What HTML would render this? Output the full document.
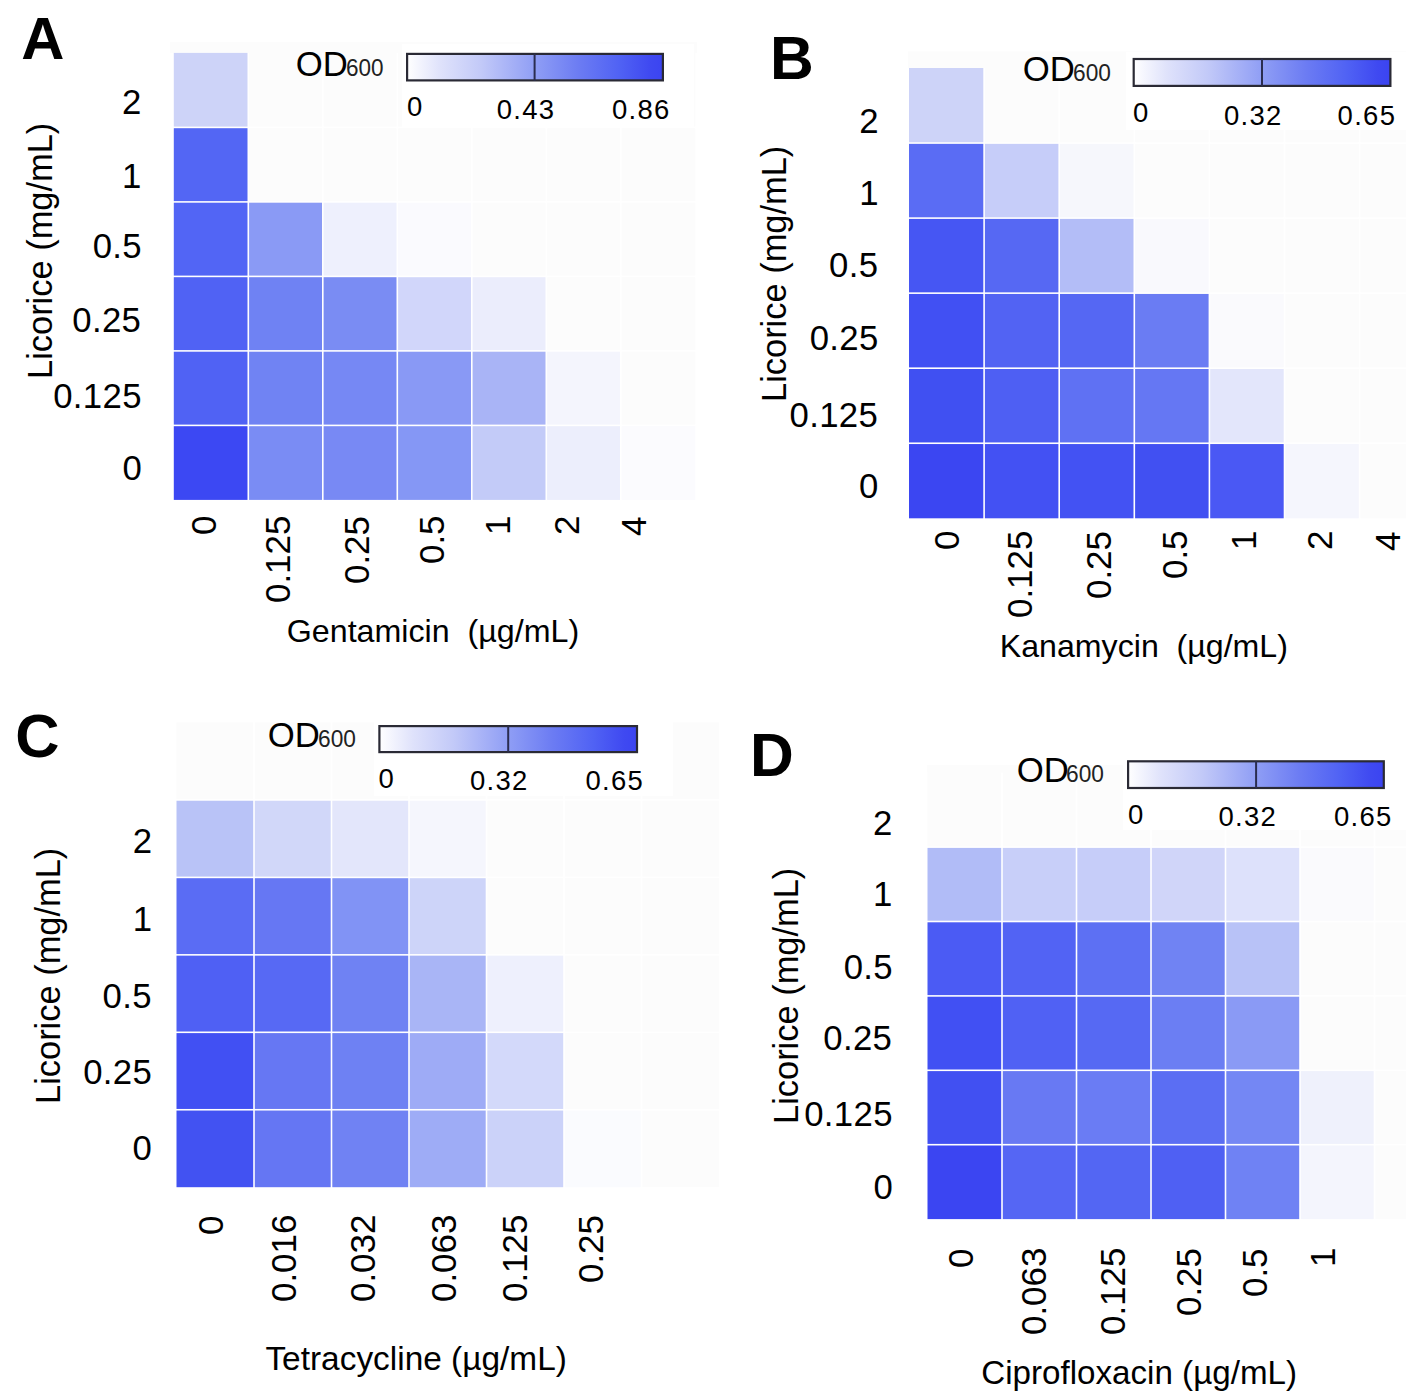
<!DOCTYPE html><html><head><meta charset="utf-8"><style>html,body{margin:0;padding:0;background:#fff;}body{width:1406px;height:1400px;position:relative;overflow:hidden;}</style></head><body>
<svg width="1406" height="1400" style="position:absolute;left:0;top:0"><defs><linearGradient id="gA" x1="0" y1="0" x2="1" y2="0"><stop offset="0" stop-color="#ffffff"/><stop offset="0.13" stop-color="#dfe2fb"/><stop offset="0.29" stop-color="#c2c9f8"/><stop offset="0.44" stop-color="#9eaaf6"/><stop offset="0.5" stop-color="#8f9ef5"/><stop offset="0.67" stop-color="#6c7cf3"/><stop offset="0.83" stop-color="#5062f4"/><stop offset="0.95" stop-color="#3f49f1"/><stop offset="1" stop-color="#3b44f1"/></linearGradient><linearGradient id="gB" x1="0" y1="0" x2="1" y2="0"><stop offset="0" stop-color="#ffffff"/><stop offset="0.13" stop-color="#dfe2fb"/><stop offset="0.29" stop-color="#c2c9f8"/><stop offset="0.44" stop-color="#9eaaf6"/><stop offset="0.5" stop-color="#8f9ef5"/><stop offset="0.67" stop-color="#6c7cf3"/><stop offset="0.83" stop-color="#5062f4"/><stop offset="0.95" stop-color="#3f49f1"/><stop offset="1" stop-color="#3b44f1"/></linearGradient><linearGradient id="gC" x1="0" y1="0" x2="1" y2="0"><stop offset="0" stop-color="#ffffff"/><stop offset="0.13" stop-color="#dfe2fb"/><stop offset="0.29" stop-color="#c2c9f8"/><stop offset="0.44" stop-color="#9eaaf6"/><stop offset="0.5" stop-color="#8f9ef5"/><stop offset="0.67" stop-color="#6c7cf3"/><stop offset="0.83" stop-color="#5062f4"/><stop offset="0.95" stop-color="#3f49f1"/><stop offset="1" stop-color="#3b44f1"/></linearGradient><linearGradient id="gD" x1="0" y1="0" x2="1" y2="0"><stop offset="0" stop-color="#ffffff"/><stop offset="0.13" stop-color="#dfe2fb"/><stop offset="0.29" stop-color="#c2c9f8"/><stop offset="0.44" stop-color="#9eaaf6"/><stop offset="0.5" stop-color="#8f9ef5"/><stop offset="0.67" stop-color="#6c7cf3"/><stop offset="0.83" stop-color="#5062f4"/><stop offset="0.95" stop-color="#3f49f1"/><stop offset="1" stop-color="#3b44f1"/></linearGradient></defs><rect x="170" y="42" width="527" height="11" fill="#fcfcfc"/><rect x="173.80" y="52.90" width="73.70" height="73.70" fill="#cdd3f8"/><rect x="249.10" y="52.90" width="72.90" height="73.70" fill="#fcfcfc"/><rect x="323.60" y="52.90" width="72.90" height="73.70" fill="#fcfcfc"/><rect x="398.10" y="52.90" width="72.90" height="73.70" fill="#fcfcfc"/><rect x="472.60" y="52.90" width="72.90" height="73.70" fill="#fcfcfc"/><rect x="547.10" y="52.90" width="72.90" height="73.70" fill="#fcfcfc"/><rect x="621.60" y="52.90" width="73.70" height="73.70" fill="#fcfcfc"/><rect x="173.80" y="128.20" width="73.70" height="72.90" fill="#5366f4"/><rect x="249.10" y="128.20" width="72.90" height="72.90" fill="#fcfcfc"/><rect x="323.60" y="128.20" width="72.90" height="72.90" fill="#fcfcfc"/><rect x="398.10" y="128.20" width="72.90" height="72.90" fill="#fcfcfc"/><rect x="472.60" y="128.20" width="72.90" height="72.90" fill="#fcfcfc"/><rect x="547.10" y="128.20" width="72.90" height="72.90" fill="#fcfcfc"/><rect x="621.60" y="128.20" width="73.70" height="72.90" fill="#fcfcfc"/><rect x="173.80" y="202.70" width="73.70" height="72.90" fill="#5265f5"/><rect x="249.10" y="202.70" width="72.90" height="72.90" fill="#8a9af5"/><rect x="323.60" y="202.70" width="72.90" height="72.90" fill="#eef0fd"/><rect x="398.10" y="202.70" width="72.90" height="72.90" fill="#fafafe"/><rect x="472.60" y="202.70" width="72.90" height="72.90" fill="#fcfcfc"/><rect x="547.10" y="202.70" width="72.90" height="72.90" fill="#fcfcfc"/><rect x="621.60" y="202.70" width="73.70" height="72.90" fill="#fcfcfc"/><rect x="173.80" y="277.20" width="73.70" height="72.90" fill="#5062f4"/><rect x="249.10" y="277.20" width="72.90" height="72.90" fill="#6f82f3"/><rect x="323.60" y="277.20" width="72.90" height="72.90" fill="#7a8cf3"/><rect x="398.10" y="277.20" width="72.90" height="72.90" fill="#d1d6fa"/><rect x="472.60" y="277.20" width="72.90" height="72.90" fill="#ebedfc"/><rect x="547.10" y="277.20" width="72.90" height="72.90" fill="#fcfcfc"/><rect x="621.60" y="277.20" width="73.70" height="72.90" fill="#fcfcfc"/><rect x="173.80" y="351.70" width="73.70" height="72.90" fill="#5062f4"/><rect x="249.10" y="351.70" width="72.90" height="72.90" fill="#7083f3"/><rect x="323.60" y="351.70" width="72.90" height="72.90" fill="#7688f4"/><rect x="398.10" y="351.70" width="72.90" height="72.90" fill="#8999f5"/><rect x="472.60" y="351.70" width="72.90" height="72.90" fill="#a9b4f6"/><rect x="547.10" y="351.70" width="72.90" height="72.90" fill="#f4f5fd"/><rect x="621.60" y="351.70" width="73.70" height="72.90" fill="#fcfcfc"/><rect x="173.80" y="426.20" width="73.70" height="73.70" fill="#3c48f3"/><rect x="249.10" y="426.20" width="72.90" height="73.70" fill="#7a8cf4"/><rect x="323.60" y="426.20" width="72.90" height="73.70" fill="#7889f4"/><rect x="398.10" y="426.20" width="72.90" height="73.70" fill="#8597f5"/><rect x="472.60" y="426.20" width="72.90" height="73.70" fill="#c3cbf8"/><rect x="547.10" y="426.20" width="72.90" height="73.70" fill="#eceefc"/><rect x="621.60" y="426.20" width="73.70" height="73.70" fill="#fbfbfe"/><rect x="402" y="44" width="292" height="84" fill="#ffffff"/><rect x="407.10" y="53.90" width="255.80" height="26.50" fill="url(#gA)" stroke="#2a2a35" stroke-width="2.2"/><line x1="534.60" y1="53.55" x2="534.60" y2="80.75" stroke="#2a2d50" stroke-width="2.0"/><rect x="908" y="51.4" width="498" height="16.6" fill="#fcfcfc"/><rect x="909.00" y="68.00" width="74.30" height="74.25" fill="#cdd3f8"/><rect x="984.90" y="68.00" width="73.50" height="74.25" fill="#fcfcfc"/><rect x="1060.00" y="68.00" width="73.50" height="74.25" fill="#fcfcfc"/><rect x="1135.10" y="68.00" width="73.50" height="74.25" fill="#fcfcfc"/><rect x="1210.20" y="68.00" width="73.50" height="74.25" fill="#fcfcfc"/><rect x="1285.30" y="68.00" width="73.50" height="74.25" fill="#fcfcfc"/><rect x="1360.40" y="68.00" width="45.60" height="74.25" fill="#fcfcfc"/><rect x="909.00" y="143.85" width="74.30" height="73.45" fill="#5a6cf4"/><rect x="984.90" y="143.85" width="73.50" height="73.45" fill="#c6cdf9"/><rect x="1060.00" y="143.85" width="73.50" height="73.45" fill="#f6f7fc"/><rect x="1135.10" y="143.85" width="73.50" height="73.45" fill="#fcfcfc"/><rect x="1210.20" y="143.85" width="73.50" height="73.45" fill="#fcfcfc"/><rect x="1285.30" y="143.85" width="73.50" height="73.45" fill="#fcfcfc"/><rect x="1360.40" y="143.85" width="45.60" height="73.45" fill="#fcfcfc"/><rect x="909.00" y="218.90" width="74.30" height="73.45" fill="#4656f3"/><rect x="984.90" y="218.90" width="73.50" height="73.45" fill="#5668f3"/><rect x="1060.00" y="218.90" width="73.50" height="73.45" fill="#b3bdf7"/><rect x="1135.10" y="218.90" width="73.50" height="73.45" fill="#f9f9fd"/><rect x="1210.20" y="218.90" width="73.50" height="73.45" fill="#fcfcfc"/><rect x="1285.30" y="218.90" width="73.50" height="73.45" fill="#fcfcfc"/><rect x="1360.40" y="218.90" width="45.60" height="73.45" fill="#fcfcfc"/><rect x="909.00" y="293.95" width="74.30" height="73.45" fill="#4150f3"/><rect x="984.90" y="293.95" width="73.50" height="73.45" fill="#5263f3"/><rect x="1060.00" y="293.95" width="73.50" height="73.45" fill="#5567f3"/><rect x="1135.10" y="293.95" width="73.50" height="73.45" fill="#6a7cf3"/><rect x="1210.20" y="293.95" width="73.50" height="73.45" fill="#fafafd"/><rect x="1285.30" y="293.95" width="73.50" height="73.45" fill="#fcfcfc"/><rect x="1360.40" y="293.95" width="45.60" height="73.45" fill="#fcfcfc"/><rect x="909.00" y="369.00" width="74.30" height="73.45" fill="#4050f2"/><rect x="984.90" y="369.00" width="73.50" height="73.45" fill="#4e5ff3"/><rect x="1060.00" y="369.00" width="73.50" height="73.45" fill="#5f71f3"/><rect x="1135.10" y="369.00" width="73.50" height="73.45" fill="#6577f3"/><rect x="1210.20" y="369.00" width="73.50" height="73.45" fill="#e3e6fb"/><rect x="1285.30" y="369.00" width="73.50" height="73.45" fill="#fcfcfc"/><rect x="1360.40" y="369.00" width="45.60" height="73.45" fill="#fcfcfc"/><rect x="909.00" y="444.05" width="74.30" height="74.25" fill="#3b46f2"/><rect x="984.90" y="444.05" width="73.50" height="74.25" fill="#4351f3"/><rect x="1060.00" y="444.05" width="73.50" height="74.25" fill="#4352f3"/><rect x="1135.10" y="444.05" width="73.50" height="74.25" fill="#4150f2"/><rect x="1210.20" y="444.05" width="73.50" height="74.25" fill="#4a58f4"/><rect x="1285.30" y="444.05" width="73.50" height="74.25" fill="#f5f6fd"/><rect x="1360.40" y="444.05" width="45.60" height="74.25" fill="#fcfcfc"/><rect x="1126" y="52" width="280" height="78" fill="#ffffff"/><rect x="1133.70" y="59.00" width="256.70" height="26.90" fill="url(#gB)" stroke="#2a2a35" stroke-width="2.2"/><line x1="1262.00" y1="58.65" x2="1262.00" y2="86.25" stroke="#2a2d50" stroke-width="2.0"/><rect x="176.50" y="722.50" width="76.70" height="76.65" fill="#fcfcfc"/><rect x="254.80" y="722.50" width="75.90" height="76.65" fill="#fcfcfc"/><rect x="332.30" y="722.50" width="75.90" height="76.65" fill="#fcfcfc"/><rect x="409.80" y="722.50" width="75.90" height="76.65" fill="#fcfcfc"/><rect x="487.30" y="722.50" width="75.90" height="76.65" fill="#fcfcfc"/><rect x="564.80" y="722.50" width="75.90" height="76.65" fill="#fcfcfc"/><rect x="642.30" y="722.50" width="76.70" height="76.65" fill="#fcfcfc"/><rect x="176.50" y="800.75" width="76.70" height="75.85" fill="#b9c3f7"/><rect x="254.80" y="800.75" width="75.90" height="75.85" fill="#d1d7f9"/><rect x="332.30" y="800.75" width="75.90" height="75.85" fill="#e3e6fb"/><rect x="409.80" y="800.75" width="75.90" height="75.85" fill="#f5f6fd"/><rect x="487.30" y="800.75" width="75.90" height="75.85" fill="#fcfcfc"/><rect x="564.80" y="800.75" width="75.90" height="75.85" fill="#fcfcfc"/><rect x="642.30" y="800.75" width="76.70" height="75.85" fill="#fcfcfc"/><rect x="176.50" y="878.20" width="76.70" height="75.85" fill="#5a6cf4"/><rect x="254.80" y="878.20" width="75.90" height="75.85" fill="#6677f3"/><rect x="332.30" y="878.20" width="75.90" height="75.85" fill="#8193f5"/><rect x="409.80" y="878.20" width="75.90" height="75.85" fill="#cdd4f9"/><rect x="487.30" y="878.20" width="75.90" height="75.85" fill="#fcfcfc"/><rect x="564.80" y="878.20" width="75.90" height="75.85" fill="#fcfcfc"/><rect x="642.30" y="878.20" width="76.70" height="75.85" fill="#fcfcfc"/><rect x="176.50" y="955.65" width="76.70" height="75.85" fill="#4f60f4"/><rect x="254.80" y="955.65" width="75.90" height="75.85" fill="#5769f4"/><rect x="332.30" y="955.65" width="75.90" height="75.85" fill="#6f82f3"/><rect x="409.80" y="955.65" width="75.90" height="75.85" fill="#a9b5f6"/><rect x="487.30" y="955.65" width="75.90" height="75.85" fill="#eef0fd"/><rect x="564.80" y="955.65" width="75.90" height="75.85" fill="#fcfcfc"/><rect x="642.30" y="955.65" width="76.70" height="75.85" fill="#fcfcfc"/><rect x="176.50" y="1033.10" width="76.70" height="75.85" fill="#4150f3"/><rect x="254.80" y="1033.10" width="75.90" height="75.85" fill="#6677f3"/><rect x="332.30" y="1033.10" width="75.90" height="75.85" fill="#6e81f3"/><rect x="409.80" y="1033.10" width="75.90" height="75.85" fill="#9eabf6"/><rect x="487.30" y="1033.10" width="75.90" height="75.85" fill="#d3d9fa"/><rect x="564.80" y="1033.10" width="75.90" height="75.85" fill="#fcfcfc"/><rect x="642.30" y="1033.10" width="76.70" height="75.85" fill="#fcfcfc"/><rect x="176.50" y="1110.55" width="76.70" height="76.65" fill="#4252f2"/><rect x="254.80" y="1110.55" width="75.90" height="76.65" fill="#6576f3"/><rect x="332.30" y="1110.55" width="75.90" height="76.65" fill="#7082f3"/><rect x="409.80" y="1110.55" width="75.90" height="76.65" fill="#9eacf6"/><rect x="487.30" y="1110.55" width="75.90" height="76.65" fill="#cbd2f9"/><rect x="564.80" y="1110.55" width="75.90" height="76.65" fill="#fafbfe"/><rect x="642.30" y="1110.55" width="76.70" height="76.65" fill="#fcfcfc"/><rect x="374" y="721" width="299" height="75" fill="#ffffff"/><rect x="379.40" y="726.10" width="257.60" height="26.00" fill="url(#gC)" stroke="#2a2a35" stroke-width="2.2"/><line x1="508.20" y1="725.75" x2="508.20" y2="752.45" stroke="#2a2d50" stroke-width="2.0"/><rect x="927" y="765" width="479" height="7.7000000000000455" fill="#fcfcfc"/><rect x="927.50" y="772.70" width="73.70" height="73.60" fill="#fcfcfc"/><rect x="1002.80" y="772.70" width="72.90" height="73.60" fill="#fcfcfc"/><rect x="1077.30" y="772.70" width="72.90" height="73.60" fill="#fcfcfc"/><rect x="1151.80" y="772.70" width="72.90" height="73.60" fill="#fcfcfc"/><rect x="1226.30" y="772.70" width="72.90" height="73.60" fill="#fcfcfc"/><rect x="1300.80" y="772.70" width="72.90" height="73.60" fill="#fcfcfc"/><rect x="1375.30" y="772.70" width="30.70" height="73.60" fill="#fcfcfc"/><rect x="927.50" y="847.90" width="73.70" height="72.80" fill="#b1bcf7"/><rect x="1002.80" y="847.90" width="72.90" height="72.80" fill="#c8cff9"/><rect x="1077.30" y="847.90" width="72.90" height="72.80" fill="#c6cdf9"/><rect x="1151.80" y="847.90" width="72.90" height="72.80" fill="#d0d5f9"/><rect x="1226.30" y="847.90" width="72.90" height="72.80" fill="#dde1fb"/><rect x="1300.80" y="847.90" width="72.90" height="72.80" fill="#fafafd"/><rect x="1375.30" y="847.90" width="30.70" height="72.80" fill="#fcfcfc"/><rect x="927.50" y="922.30" width="73.70" height="72.80" fill="#4b5bf4"/><rect x="1002.80" y="922.30" width="72.90" height="72.80" fill="#5263f4"/><rect x="1077.30" y="922.30" width="72.90" height="72.80" fill="#5d70f3"/><rect x="1151.80" y="922.30" width="72.90" height="72.80" fill="#7083f3"/><rect x="1226.30" y="922.30" width="72.90" height="72.80" fill="#b8c2f7"/><rect x="1300.80" y="922.30" width="72.90" height="72.80" fill="#fcfcfc"/><rect x="1375.30" y="922.30" width="30.70" height="72.80" fill="#fcfcfc"/><rect x="927.50" y="996.70" width="73.70" height="72.80" fill="#4150f3"/><rect x="1002.80" y="996.70" width="72.90" height="72.80" fill="#5061f4"/><rect x="1077.30" y="996.70" width="72.90" height="72.80" fill="#5669f3"/><rect x="1151.80" y="996.70" width="72.90" height="72.80" fill="#6b7ef3"/><rect x="1226.30" y="996.70" width="72.90" height="72.80" fill="#8a9af5"/><rect x="1300.80" y="996.70" width="72.90" height="72.80" fill="#fcfcfc"/><rect x="1375.30" y="996.70" width="30.70" height="72.80" fill="#fcfcfc"/><rect x="927.50" y="1071.10" width="73.70" height="72.80" fill="#4150f2"/><rect x="1002.80" y="1071.10" width="72.90" height="72.80" fill="#6879f3"/><rect x="1077.30" y="1071.10" width="72.90" height="72.80" fill="#6a7cf4"/><rect x="1151.80" y="1071.10" width="72.90" height="72.80" fill="#5b6ef3"/><rect x="1226.30" y="1071.10" width="72.90" height="72.80" fill="#7487f4"/><rect x="1300.80" y="1071.10" width="72.90" height="72.80" fill="#eff1fc"/><rect x="1375.30" y="1071.10" width="30.70" height="72.80" fill="#fcfcfc"/><rect x="927.50" y="1145.50" width="73.70" height="73.60" fill="#3b45f2"/><rect x="1002.80" y="1145.50" width="72.90" height="73.60" fill="#5566f4"/><rect x="1077.30" y="1145.50" width="72.90" height="73.60" fill="#5366f3"/><rect x="1151.80" y="1145.50" width="72.90" height="73.60" fill="#4f60f3"/><rect x="1226.30" y="1145.50" width="72.90" height="73.60" fill="#6f82f4"/><rect x="1300.80" y="1145.50" width="72.90" height="73.60" fill="#f4f5fd"/><rect x="1375.30" y="1145.50" width="30.70" height="73.60" fill="#fcfcfc"/><rect x="1123" y="757" width="283" height="73" fill="#ffffff"/><rect x="1128.10" y="761.30" width="255.70" height="26.70" fill="url(#gD)" stroke="#2a2a35" stroke-width="2.2"/><line x1="1256.10" y1="760.95" x2="1256.10" y2="788.35" stroke="#2a2d50" stroke-width="2.0"/></svg>
<div id="t0" style="position:absolute;left:21.21px;top:9.44px;font:700 59.71px 'Liberation Sans', sans-serif;line-height:1;white-space:pre;letter-spacing:0.00px;color:#000;">A</div>
<div id="t1" style="position:absolute;left:769.96px;top:28.11px;font:700 60.58px 'Liberation Sans', sans-serif;line-height:1;white-space:pre;letter-spacing:0.00px;color:#000;">B</div>
<div id="t2" style="position:absolute;left:15.25px;top:705.51px;font:700 61.27px 'Liberation Sans', sans-serif;line-height:1;white-space:pre;letter-spacing:0.00px;color:#000;">C</div>
<div id="t3" style="position:absolute;left:750.06px;top:724.61px;font:700 60.58px 'Liberation Sans', sans-serif;line-height:1;white-space:pre;letter-spacing:0.00px;color:#000;">D</div>
<div id="t4" style="position:absolute;left:295.66px;top:47.04px;font:400 34.72px 'Liberation Sans', sans-serif;line-height:1;white-space:pre;letter-spacing:0.00px;color:#000;">OD</div>
<div id="t5" style="position:absolute;left:345.57px;top:56.15px;font:400 24.01px 'Liberation Sans', sans-serif;line-height:1;white-space:pre;letter-spacing:0.00px;color:#222;transform-origin:0 0;transform:scaleX(0.9383);">600</div>
<div id="t6" style="position:absolute;left:1022.86px;top:51.84px;font:400 34.72px 'Liberation Sans', sans-serif;line-height:1;white-space:pre;letter-spacing:0.00px;color:#000;">OD</div>
<div id="t7" style="position:absolute;left:1072.76px;top:61.05px;font:400 24.01px 'Liberation Sans', sans-serif;line-height:1;white-space:pre;letter-spacing:0.00px;color:#222;transform-origin:0 0;transform:scaleX(0.9462);">600</div>
<div id="t8" style="position:absolute;left:267.86px;top:718.24px;font:400 34.72px 'Liberation Sans', sans-serif;line-height:1;white-space:pre;letter-spacing:0.00px;color:#000;">OD</div>
<div id="t9" style="position:absolute;left:317.76px;top:727.45px;font:400 24.01px 'Liberation Sans', sans-serif;line-height:1;white-space:pre;letter-spacing:0.00px;color:#222;transform-origin:0 0;transform:scaleX(0.9462);">600</div>
<div id="t10" style="position:absolute;left:1016.86px;top:753.34px;font:400 34.72px 'Liberation Sans', sans-serif;line-height:1;white-space:pre;letter-spacing:0.00px;color:#000;">OD</div>
<div id="t11" style="position:absolute;left:1066.46px;top:762.45px;font:400 24.01px 'Liberation Sans', sans-serif;line-height:1;white-space:pre;letter-spacing:0.00px;color:#222;transform-origin:0 0;transform:scaleX(0.9462);">600</div>
<div id="t12" style="position:absolute;left:406.90px;top:92.88px;font:400 27.46px 'Liberation Sans', sans-serif;line-height:1;white-space:pre;letter-spacing:1.30px;color:#000;">0</div>
<div id="t13" style="position:absolute;left:496.70px;top:95.88px;font:400 27.46px 'Liberation Sans', sans-serif;line-height:1;white-space:pre;letter-spacing:1.30px;color:#000;">0.43</div>
<div id="t14" style="position:absolute;left:611.90px;top:95.88px;font:400 27.46px 'Liberation Sans', sans-serif;line-height:1;white-space:pre;letter-spacing:1.30px;color:#000;">0.86</div>
<div id="t15" style="position:absolute;left:1132.90px;top:99.48px;font:400 27.46px 'Liberation Sans', sans-serif;line-height:1;white-space:pre;letter-spacing:1.30px;color:#000;">0</div>
<div id="t16" style="position:absolute;left:1223.90px;top:101.88px;font:400 27.46px 'Liberation Sans', sans-serif;line-height:1;white-space:pre;letter-spacing:1.30px;color:#000;">0.32</div>
<div id="t17" style="position:absolute;left:1337.60px;top:101.88px;font:400 27.46px 'Liberation Sans', sans-serif;line-height:1;white-space:pre;letter-spacing:1.30px;color:#000;">0.65</div>
<div id="t18" style="position:absolute;left:378.60px;top:765.38px;font:400 27.46px 'Liberation Sans', sans-serif;line-height:1;white-space:pre;letter-spacing:1.30px;color:#000;">0</div>
<div id="t19" style="position:absolute;left:470.00px;top:766.88px;font:400 27.46px 'Liberation Sans', sans-serif;line-height:1;white-space:pre;letter-spacing:1.30px;color:#000;">0.32</div>
<div id="t20" style="position:absolute;left:585.40px;top:766.88px;font:400 27.46px 'Liberation Sans', sans-serif;line-height:1;white-space:pre;letter-spacing:1.30px;color:#000;">0.65</div>
<div id="t21" style="position:absolute;left:1128.10px;top:800.88px;font:400 27.46px 'Liberation Sans', sans-serif;line-height:1;white-space:pre;letter-spacing:1.30px;color:#000;">0</div>
<div id="t22" style="position:absolute;left:1218.40px;top:802.88px;font:400 27.46px 'Liberation Sans', sans-serif;line-height:1;white-space:pre;letter-spacing:1.30px;color:#000;">0.32</div>
<div id="t23" style="position:absolute;left:1333.90px;top:802.88px;font:400 27.46px 'Liberation Sans', sans-serif;line-height:1;white-space:pre;letter-spacing:1.30px;color:#000;">0.65</div>
<div id="t24" style="position:absolute;left:121.88px;top:85.13px;font:400 34.74px 'Liberation Sans', sans-serif;line-height:1;white-space:pre;letter-spacing:0.35px;color:#000;">2</div>
<div id="t25" style="position:absolute;left:121.88px;top:158.51px;font:400 34.74px 'Liberation Sans', sans-serif;line-height:1;white-space:pre;letter-spacing:0.35px;color:#000;">1</div>
<div id="t26" style="position:absolute;left:92.70px;top:228.76px;font:400 34.74px 'Liberation Sans', sans-serif;line-height:1;white-space:pre;letter-spacing:0.35px;color:#000;">0.5</div>
<div id="t27" style="position:absolute;left:72.25px;top:302.56px;font:400 34.74px 'Liberation Sans', sans-serif;line-height:1;white-space:pre;letter-spacing:0.35px;color:#000;">0.25</div>
<div id="t28" style="position:absolute;left:53.14px;top:379.16px;font:400 34.74px 'Liberation Sans', sans-serif;line-height:1;white-space:pre;letter-spacing:0.35px;color:#000;">0.125</div>
<div id="t29" style="position:absolute;left:122.54px;top:450.51px;font:400 34.74px 'Liberation Sans', sans-serif;line-height:1;white-space:pre;letter-spacing:0.35px;color:#000;">0</div>
<div id="t30" style="position:absolute;left:859.28px;top:104.03px;font:400 34.74px 'Liberation Sans', sans-serif;line-height:1;white-space:pre;letter-spacing:0.35px;color:#000;">2</div>
<div id="t31" style="position:absolute;left:859.28px;top:176.11px;font:400 34.74px 'Liberation Sans', sans-serif;line-height:1;white-space:pre;letter-spacing:0.35px;color:#000;">1</div>
<div id="t32" style="position:absolute;left:829.10px;top:248.46px;font:400 34.74px 'Liberation Sans', sans-serif;line-height:1;white-space:pre;letter-spacing:0.35px;color:#000;">0.5</div>
<div id="t33" style="position:absolute;left:809.65px;top:321.46px;font:400 34.74px 'Liberation Sans', sans-serif;line-height:1;white-space:pre;letter-spacing:0.35px;color:#000;">0.25</div>
<div id="t34" style="position:absolute;left:789.54px;top:398.46px;font:400 34.74px 'Liberation Sans', sans-serif;line-height:1;white-space:pre;letter-spacing:0.35px;color:#000;">0.125</div>
<div id="t35" style="position:absolute;left:858.94px;top:468.96px;font:400 34.74px 'Liberation Sans', sans-serif;line-height:1;white-space:pre;letter-spacing:0.35px;color:#000;">0</div>
<div id="t36" style="position:absolute;left:132.78px;top:823.88px;font:400 34.74px 'Liberation Sans', sans-serif;line-height:1;white-space:pre;letter-spacing:0.35px;color:#000;">2</div>
<div id="t37" style="position:absolute;left:132.78px;top:902.41px;font:400 34.74px 'Liberation Sans', sans-serif;line-height:1;white-space:pre;letter-spacing:0.35px;color:#000;">1</div>
<div id="t38" style="position:absolute;left:102.60px;top:978.51px;font:400 34.74px 'Liberation Sans', sans-serif;line-height:1;white-space:pre;letter-spacing:0.35px;color:#000;">0.5</div>
<div id="t39" style="position:absolute;left:83.15px;top:1054.56px;font:400 34.74px 'Liberation Sans', sans-serif;line-height:1;white-space:pre;letter-spacing:0.35px;color:#000;">0.25</div>
<div id="t40" style="position:absolute;left:132.44px;top:1130.56px;font:400 34.74px 'Liberation Sans', sans-serif;line-height:1;white-space:pre;letter-spacing:0.35px;color:#000;">0</div>
<div id="t41" style="position:absolute;left:872.88px;top:805.83px;font:400 34.74px 'Liberation Sans', sans-serif;line-height:1;white-space:pre;letter-spacing:0.35px;color:#000;">2</div>
<div id="t42" style="position:absolute;left:872.88px;top:877.16px;font:400 34.74px 'Liberation Sans', sans-serif;line-height:1;white-space:pre;letter-spacing:0.35px;color:#000;">1</div>
<div id="t43" style="position:absolute;left:843.70px;top:950.46px;font:400 34.74px 'Liberation Sans', sans-serif;line-height:1;white-space:pre;letter-spacing:0.35px;color:#000;">0.5</div>
<div id="t44" style="position:absolute;left:823.25px;top:1020.76px;font:400 34.74px 'Liberation Sans', sans-serif;line-height:1;white-space:pre;letter-spacing:0.35px;color:#000;">0.25</div>
<div id="t45" style="position:absolute;left:804.14px;top:1097.31px;font:400 34.74px 'Liberation Sans', sans-serif;line-height:1;white-space:pre;letter-spacing:0.35px;color:#000;">0.125</div>
<div id="t46" style="position:absolute;left:873.54px;top:1170.46px;font:400 34.74px 'Liberation Sans', sans-serif;line-height:1;white-space:pre;letter-spacing:0.35px;color:#000;">0</div>
<div id="t47" style="position:absolute;left:23.08px;top:379.26px;font:400 34.44px 'Liberation Sans', sans-serif;line-height:1;white-space:pre;letter-spacing:0.00px;color:#000;transform-origin:0 0;transform:rotate(-90deg);">Licorice (mg/mL)</div>
<div id="t48" style="position:absolute;left:757.08px;top:401.96px;font:400 34.44px 'Liberation Sans', sans-serif;line-height:1;white-space:pre;letter-spacing:0.00px;color:#000;transform-origin:0 0;transform:rotate(-90deg);">Licorice (mg/mL)</div>
<div id="t49" style="position:absolute;left:30.93px;top:1104.06px;font:400 34.44px 'Liberation Sans', sans-serif;line-height:1;white-space:pre;letter-spacing:0.00px;color:#000;transform-origin:0 0;transform:rotate(-90deg);">Licorice (mg/mL)</div>
<div id="t50" style="position:absolute;left:768.78px;top:1123.56px;font:400 34.44px 'Liberation Sans', sans-serif;line-height:1;white-space:pre;letter-spacing:0.00px;color:#000;transform-origin:0 0;transform:rotate(-90deg);">Licorice (mg/mL)</div>
<div id="t51" style="position:absolute;left:187.41px;top:535.16px;font:400 34.93px 'Liberation Sans', sans-serif;line-height:1;white-space:pre;letter-spacing:0.00px;color:#000;transform-origin:0 0;transform:rotate(-90deg);">0</div>
<div id="t52" style="position:absolute;left:260.61px;top:602.93px;font:400 34.93px 'Liberation Sans', sans-serif;line-height:1;white-space:pre;letter-spacing:0.00px;color:#000;transform-origin:0 0;transform:rotate(-90deg);">0.125</div>
<div id="t53" style="position:absolute;left:339.66px;top:583.72px;font:400 34.93px 'Liberation Sans', sans-serif;line-height:1;white-space:pre;letter-spacing:0.00px;color:#000;transform-origin:0 0;transform:rotate(-90deg);">0.25</div>
<div id="t54" style="position:absolute;left:415.31px;top:564.15px;font:400 34.93px 'Liberation Sans', sans-serif;line-height:1;white-space:pre;letter-spacing:0.00px;color:#000;transform-origin:0 0;transform:rotate(-90deg);">0.5</div>
<div id="t55" style="position:absolute;left:481.26px;top:534.81px;font:400 34.93px 'Liberation Sans', sans-serif;line-height:1;white-space:pre;letter-spacing:0.00px;color:#000;transform-origin:0 0;transform:rotate(-90deg);">1</div>
<div id="t56" style="position:absolute;left:549.64px;top:534.81px;font:400 34.93px 'Liberation Sans', sans-serif;line-height:1;white-space:pre;letter-spacing:0.00px;color:#000;transform-origin:0 0;transform:rotate(-90deg);">2</div>
<div id="t57" style="position:absolute;left:617.49px;top:535.51px;font:400 34.93px 'Liberation Sans', sans-serif;line-height:1;white-space:pre;letter-spacing:0.00px;color:#000;transform-origin:0 0;transform:rotate(-90deg);">4</div>
<div id="t58" style="position:absolute;left:930.06px;top:550.16px;font:400 34.93px 'Liberation Sans', sans-serif;line-height:1;white-space:pre;letter-spacing:0.00px;color:#000;transform-origin:0 0;transform:rotate(-90deg);">0</div>
<div id="t59" style="position:absolute;left:1003.26px;top:617.93px;font:400 34.93px 'Liberation Sans', sans-serif;line-height:1;white-space:pre;letter-spacing:0.00px;color:#000;transform-origin:0 0;transform:rotate(-90deg);">0.125</div>
<div id="t60" style="position:absolute;left:1082.31px;top:598.72px;font:400 34.93px 'Liberation Sans', sans-serif;line-height:1;white-space:pre;letter-spacing:0.00px;color:#000;transform-origin:0 0;transform:rotate(-90deg);">0.25</div>
<div id="t61" style="position:absolute;left:1157.66px;top:579.15px;font:400 34.93px 'Liberation Sans', sans-serif;line-height:1;white-space:pre;letter-spacing:0.00px;color:#000;transform-origin:0 0;transform:rotate(-90deg);">0.5</div>
<div id="t62" style="position:absolute;left:1227.36px;top:549.81px;font:400 34.93px 'Liberation Sans', sans-serif;line-height:1;white-space:pre;letter-spacing:0.00px;color:#000;transform-origin:0 0;transform:rotate(-90deg);">1</div>
<div id="t63" style="position:absolute;left:1303.09px;top:549.81px;font:400 34.93px 'Liberation Sans', sans-serif;line-height:1;white-space:pre;letter-spacing:0.00px;color:#000;transform-origin:0 0;transform:rotate(-90deg);">2</div>
<div id="t64" style="position:absolute;left:1371.29px;top:550.51px;font:400 34.93px 'Liberation Sans', sans-serif;line-height:1;white-space:pre;letter-spacing:0.00px;color:#000;transform-origin:0 0;transform:rotate(-90deg);">4</div>
<div id="t65" style="position:absolute;left:193.56px;top:1234.66px;font:400 34.93px 'Liberation Sans', sans-serif;line-height:1;white-space:pre;letter-spacing:0.00px;color:#000;transform-origin:0 0;transform:rotate(-90deg);">0</div>
<div id="t66" style="position:absolute;left:266.76px;top:1302.43px;font:400 34.93px 'Liberation Sans', sans-serif;line-height:1;white-space:pre;letter-spacing:0.00px;color:#000;transform-origin:0 0;transform:rotate(-90deg);">0.016</div>
<div id="t67" style="position:absolute;left:346.21px;top:1302.08px;font:400 34.93px 'Liberation Sans', sans-serif;line-height:1;white-space:pre;letter-spacing:0.00px;color:#000;transform-origin:0 0;transform:rotate(-90deg);">0.032</div>
<div id="t68" style="position:absolute;left:426.86px;top:1302.43px;font:400 34.93px 'Liberation Sans', sans-serif;line-height:1;white-space:pre;letter-spacing:0.00px;color:#000;transform-origin:0 0;transform:rotate(-90deg);">0.063</div>
<div id="t69" style="position:absolute;left:498.36px;top:1302.43px;font:400 34.93px 'Liberation Sans', sans-serif;line-height:1;white-space:pre;letter-spacing:0.00px;color:#000;transform-origin:0 0;transform:rotate(-90deg);">0.125</div>
<div id="t70" style="position:absolute;left:574.11px;top:1283.22px;font:400 34.93px 'Liberation Sans', sans-serif;line-height:1;white-space:pre;letter-spacing:0.00px;color:#000;transform-origin:0 0;transform:rotate(-90deg);">0.25</div>
<div id="t71" style="position:absolute;left:944.06px;top:1267.66px;font:400 34.93px 'Liberation Sans', sans-serif;line-height:1;white-space:pre;letter-spacing:0.00px;color:#000;transform-origin:0 0;transform:rotate(-90deg);">0</div>
<div id="t72" style="position:absolute;left:1017.26px;top:1335.43px;font:400 34.93px 'Liberation Sans', sans-serif;line-height:1;white-space:pre;letter-spacing:0.00px;color:#000;transform-origin:0 0;transform:rotate(-90deg);">0.063</div>
<div id="t73" style="position:absolute;left:1095.91px;top:1335.43px;font:400 34.93px 'Liberation Sans', sans-serif;line-height:1;white-space:pre;letter-spacing:0.00px;color:#000;transform-origin:0 0;transform:rotate(-90deg);">0.125</div>
<div id="t74" style="position:absolute;left:1172.36px;top:1316.22px;font:400 34.93px 'Liberation Sans', sans-serif;line-height:1;white-space:pre;letter-spacing:0.00px;color:#000;transform-origin:0 0;transform:rotate(-90deg);">0.25</div>
<div id="t75" style="position:absolute;left:1237.61px;top:1296.65px;font:400 34.93px 'Liberation Sans', sans-serif;line-height:1;white-space:pre;letter-spacing:0.00px;color:#000;transform-origin:0 0;transform:rotate(-90deg);">0.5</div>
<div id="t76" style="position:absolute;left:1306.36px;top:1267.31px;font:400 34.93px 'Liberation Sans', sans-serif;line-height:1;white-space:pre;letter-spacing:0.00px;color:#000;transform-origin:0 0;transform:rotate(-90deg);">1</div>
<div id="t77" style="position:absolute;left:286.79px;top:615.04px;font:400 32.21px 'Liberation Sans', sans-serif;line-height:1;white-space:pre;letter-spacing:0.00px;color:#000;">Gentamicin  (µg/mL)</div>
<div id="t78" style="position:absolute;left:999.83px;top:630.04px;font:400 32.14px 'Liberation Sans', sans-serif;line-height:1;white-space:pre;letter-spacing:0.00px;color:#000;">Kanamycin  (µg/mL)</div>
<div id="t79" style="position:absolute;left:265.43px;top:1342.09px;font:400 33.41px 'Liberation Sans', sans-serif;line-height:1;white-space:pre;letter-spacing:0.00px;color:#000;">Tetracycline (µg/mL)</div>
<div id="t80" style="position:absolute;left:981.24px;top:1356.02px;font:400 33.16px 'Liberation Sans', sans-serif;line-height:1;white-space:pre;letter-spacing:0.00px;color:#000;">Ciprofloxacin (µg/mL)</div>
</body></html>
